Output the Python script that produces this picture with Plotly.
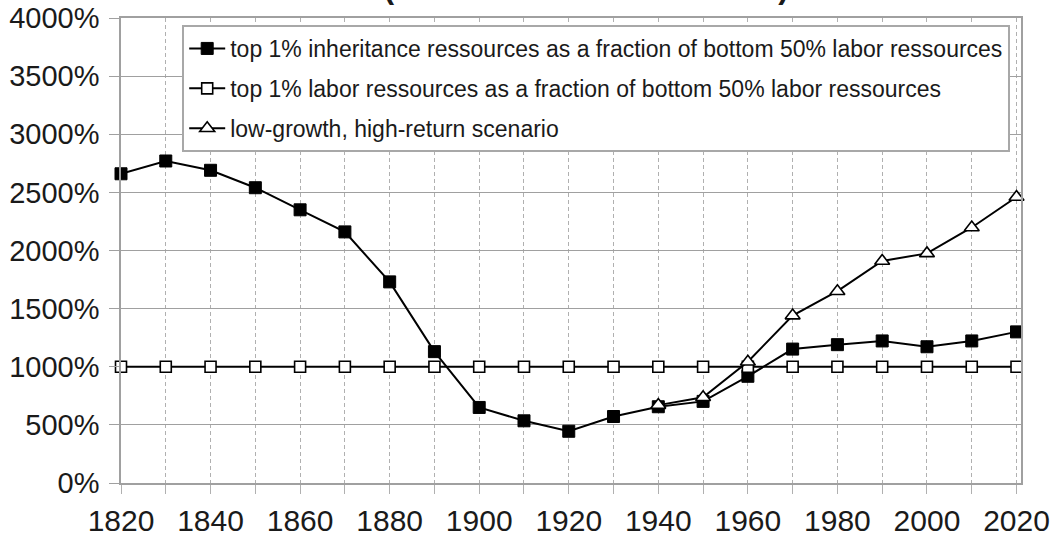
import plotly.graph_objects as go

years = [1820, 1830, 1840, 1850, 1860, 1870, 1880, 1890, 1900, 1910, 1920,
         1930, 1940, 1950, 1960, 1970, 1980, 1990, 2000, 2010, 2020]
inheritance = [2660, 2770, 2690, 2540, 2350, 2160, 1730, 1130, 650, 535, 445,
               572, 656, 702, 918, 1152, 1190, 1222, 1172, 1222, 1300]
labor = [1000] * len(years)
scenario_years = [1940, 1950, 1960, 1970, 1980, 1990, 2000, 2010, 2020]
scenario = [670, 738, 1043, 1440, 1650, 1910, 1975, 2198, 2460]

names = ["top 1% inheritance ressources as a fraction of bottom 50% labor ressources",
         "top 1% labor ressources as a fraction of bottom 50% labor ressources",
         "low-growth, high-return scenario"]
title_text = "earners (cohorts born in 1820-2020)"
x_tickvals = years
x_ticktext = [str(y) if (y - 1820) % 20 == 0 else "" for y in years]
y_tickvals = [0, 500, 1000, 1500, 2000, 2500, 3000, 3500, 4000]
y_ticktext = [f"{v}%" for v in y_tickvals]

FONT = "Liberation Sans, Arial, sans-serif"
TXT = "#1a1a1a"

fig = go.Figure()
fig.add_trace(go.Scatter(
    x=years, y=inheritance, name=names[0], mode="lines+markers",
    line=dict(color="black", width=2),
    marker=dict(symbol="square", size=12, color="black", line=dict(color="black", width=1)),
    cliponaxis=False, legendgroup="a"))
fig.add_trace(go.Scatter(
    x=years, y=labor, name=names[1], mode="lines+markers",
    line=dict(color="black", width=2),
    marker=dict(symbol="square", size=11, color="white", line=dict(color="black", width=1.6)),
    cliponaxis=False, legendgroup="b"))
fig.add_trace(go.Scatter(
    x=scenario_years, y=scenario, name=names[2], mode="lines+markers",
    line=dict(color="black", width=2),
    marker=dict(symbol="triangle-up", size=13, color="white", line=dict(color="black", width=1.6)),
    cliponaxis=False, legendgroup="c"))

fig.add_annotation(text="<b>" + title_text + "</b>", xref="paper", yref="paper",
                   x=0.449, y=1.023, xanchor="center", yanchor="bottom", showarrow=False,
                   font=dict(family=FONT, size=31, color=TXT))

fig.update_layout(
    width=1055, height=546,
    margin=dict(l=121, r=34, t=18, b=63, pad=0),
    paper_bgcolor="white", plot_bgcolor="white",
    font=dict(family=FONT, color=TXT),
    showlegend=True,
    legend=dict(x=0.068, y=0.985, xanchor="left", yanchor="top",
                bgcolor="white", bordercolor="#a8a8a8", borderwidth=2,
                font=dict(family=FONT, size=23, color=TXT),
                tracegroupgap=7, itemwidth=36),
    xaxis=dict(range=[1820, 2021], tickmode="array", tickvals=x_tickvals, ticktext=x_ticktext,
               showgrid=True, gridcolor="#b0b0b0", gridwidth=1, griddash="4px,3px",
               showline=True, linecolor="#a0a0a0", linewidth=1.5, mirror=True,
               ticks="outside", ticklen=9, tickcolor="#b0b0b0", tickwidth=1,
               tickfont=dict(family=FONT, size=30, color=TXT), ticklabelstandoff=1,
               zeroline=False, fixedrange=True, automargin=False),
    yaxis=dict(range=[0, 4000], tickmode="array", tickvals=y_tickvals, ticktext=y_ticktext,
               showgrid=True, gridcolor="#a0a0a0", gridwidth=1.2,
               showline=True, linecolor="#a0a0a0", linewidth=1.5, mirror=True,
               ticks="outside", ticklen=10, tickcolor="#a0a0a0", tickwidth=1.2,
               tickfont=dict(family=FONT, size=29, color=TXT), ticklabelstandoff=4,
               zeroline=False, fixedrange=True, automargin=False),
)

fig.write_html("out.html", config={"displayModeBar": False},
               post_script="document.body.style.margin='0px';")
